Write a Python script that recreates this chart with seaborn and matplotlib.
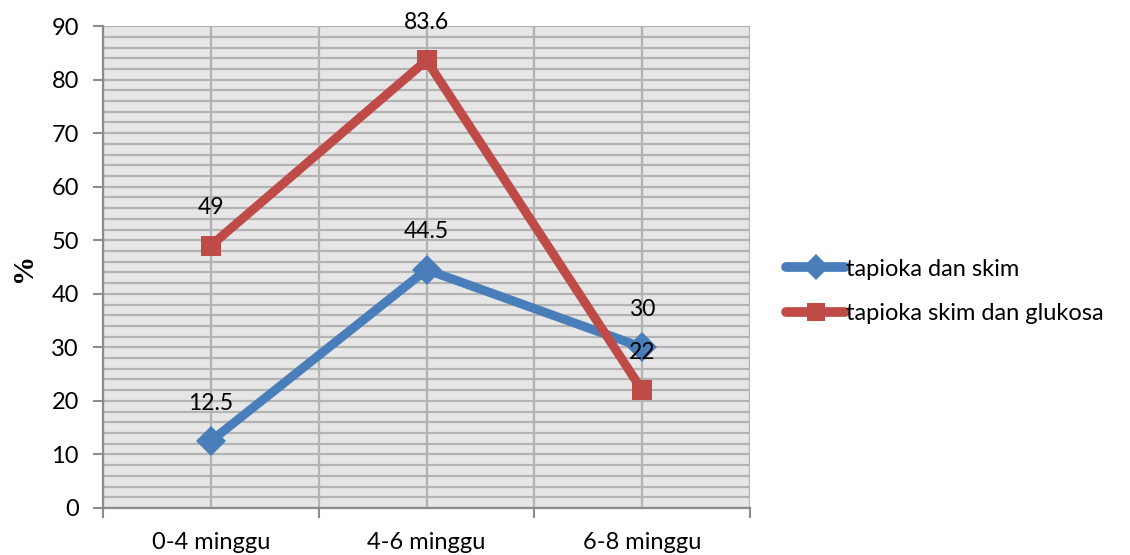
import matplotlib
matplotlib.use("Agg")
import matplotlib.pyplot as plt
from matplotlib.ticker import MultipleLocator, FixedLocator
from matplotlib.lines import Line2D
import seaborn as sns
import pandas as pd

categories = ["0-4 minggu", "4-6 minggu", "6-8 minggu"]
series_names = ["tapioka dan skim", "tapioka skim dan glukosa"]
tapioka_skim = [12.5, 44.5, 30]
tapioka_skim_glukosa = [49, 83.6, 22]
colors = ["#4a7ebb", "#be4b48"]
markers = ["D", "s"]

rows = []
for name, vals in zip(series_names, [tapioka_skim, tapioka_skim_glukosa]):
    for i, (cat, v) in enumerate(zip(categories, vals)):
        rows.append({"pos": i, "periode": cat, "nilai": v, "seri": name})
df = pd.DataFrame(rows)

sns.set_style("white")
plt.rcParams["font.family"] = ["Lato", "DejaVu Sans"]
plt.rcParams["text.color"] = "black"
plt.rcParams["xtick.color"] = "black"
plt.rcParams["ytick.color"] = "black"

fig = plt.figure(figsize=(11.3, 5.55), dpi=100)
ax = fig.add_axes([0.0912, 0.0847, 0.5725, 0.8683])
ax.set_facecolor("#e6e6e6")

sns.lineplot(data=df, x="pos", y="nilai", hue="seri", style="seri",
             palette=colors, markers=markers, dashes=False,
             linewidth=6.5, markersize=15, markeredgewidth=0,
             ax=ax, legend=False, zorder=3)

ax.set_xlim(-0.5, 2.5)
ax.set_ylim(0, 90)
ax.yaxis.set_major_locator(MultipleLocator(10))
ax.yaxis.set_minor_locator(MultipleLocator(2))
ax.set_xticks(range(len(categories)))
ax.set_xticklabels(categories)
ax.xaxis.set_minor_locator(FixedLocator([-0.5, 0.5, 1.5, 2.5]))

ax.grid(which="both", axis="y", color="#b3b3b3", linewidth=1.6, zorder=0)
ax.grid(which="both", axis="x", color="#b3b3b3", linewidth=1.6, zorder=0)
ax.set_axisbelow(True)

ax.tick_params(axis="y", which="major", length=7.5, width=1.5, color="#8c8c8c",
               labelcolor="black", labelsize=17, pad=10, left=True)
ax.tick_params(axis="y", which="minor", length=0)
ax.tick_params(axis="x", which="major", length=0, labelcolor="black",
               labelsize=17, pad=17)
ax.tick_params(axis="x", which="minor", length=7.5, width=1.5, color="#8c8c8c",
               bottom=True)

for side in ["top", "right"]:
    ax.spines[side].set_visible(False)
for side in ["left", "bottom"]:
    ax.spines[side].set_color("#8c8c8c")
    ax.spines[side].set_linewidth(1.6)

ax.set_xlabel("")
ax.set_ylabel("%", family="Liberation Serif", fontweight="bold", fontsize=21,
              color="black", labelpad=10)

for vals in [tapioka_skim, tapioka_skim_glukosa]:
    for i, v in enumerate(vals):
        ax.annotate(f"{v:g}", (i, v), xytext=(0, 38), textcoords="offset pixels",
                    ha="center", va="center", fontsize=16.5, color="black",
                    zorder=5)

handles = [Line2D([], [], color=c, marker=m, linewidth=7, markersize=13,
                  markeredgewidth=0, solid_capstyle="round")
           for c, m in zip(colors, markers)]
fig.legend(handles, series_names, loc="center left",
           bbox_to_anchor=(0.677, 0.475), frameon=False, fontsize=17,
           handlelength=2.5, handletextpad=0.05, labelspacing=1.0)

fig.savefig("out.png", dpi=100)
